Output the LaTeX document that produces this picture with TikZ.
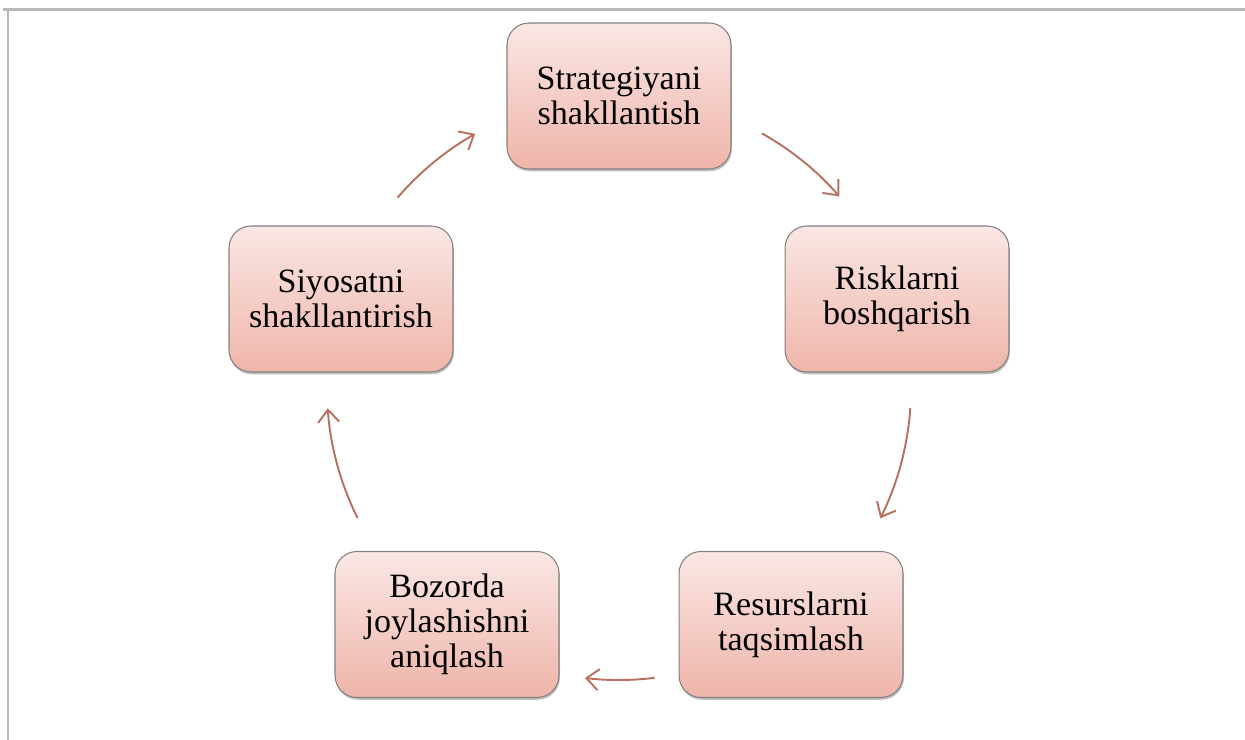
\documentclass[tikz,border=0pt]{standalone}
\usepackage{fontspec}
\setmainfont{Liberation Serif}
\usetikzlibrary{arrows.meta,shadows}
\definecolor{boxtop}{HTML}{FAE7E4}
\definecolor{boxbot}{HTML}{EFB5A9}
\definecolor{boxline}{HTML}{858080}
\definecolor{arrowred}{HTML}{B9705F}
\definecolor{framegray}{HTML}{B8B8B8}
\tikzset{
	stage/.style={draw=boxline, line width=0.6pt, rounded corners=12.5pt,
		top color=boxtop, bottom color=boxbot,
		minimum width=4.48cm, minimum height=2.92cm, align=center,
		font=\fontsize{19.4}{20}\selectfont,
		drop shadow={shadow xshift=0.5pt, shadow yshift=-1.3pt, opacity=0.25, fill=black}},
	flow/.style={draw=arrowred, line width=1.1pt, -{Straight Barb[length=7pt,width=12pt]}}
}
\begin{document}
\begin{tikzpicture}[x=0.02cm, y=0.02cm]
		\useasboundingbox (0,0) rectangle (1245,-740);
		\draw[framegray, line width=1.4pt] (3,-9.5) -- (1245,-9.5) (8,-9.5) -- (8,-740);

		\node[stage] (strat) at (619,-96) {Strategiyani\\shakllantish};
		\node[stage] (risk) at (897,-299) {Risklarni\\boshqarish};
		\node[stage] (resurs) at (791,-624.5) {Resurslarni\\taqsimlash};
		\node[stage] (bozor) at (447,-624.5) {Bozorda\\joylashishni\\aniqlash};
		\node[stage] (siyos) at (341,-299) {Siyosatni\\shakllantirish};

		\coordinate (ctr) at (619,-388);
		\foreach \from/\to in {60.7/41, -3.9/-26.5, -83/-96.7, -153.6/-176, 139.3/119.5} {
			\draw[flow] ([shift={(\from:292)}]ctr) arc[start angle=\from, end angle=\to, radius=292];
		}
	\end{tikzpicture}
\end{document}
